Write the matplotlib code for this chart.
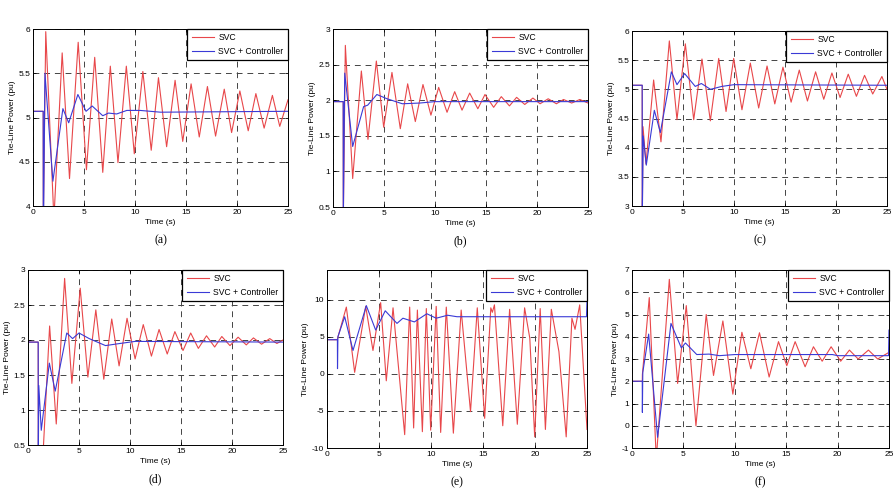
import matplotlib
matplotlib.use('Agg')
import matplotlib.pyplot as plt
from matplotlib.ticker import FuncFormatter

# ---- data (peaks / troughs) ----
t_svc_a = [0, 1, 1.01, 1.25, 2.05, 2.86, 3.58, 4.43, 5.24, 6.05, 6.84, 7.58, 8.33, 9.15, 9.93, 10.77, 11.59, 12.3,
           13.1, 13.93, 14.68, 15.5, 16.3, 17.1, 17.9, 18.75, 19.47, 20.28, 21.1, 21.85, 22.66, 23.47, 24.19, 25]
p_svc_a = [5.07, 5.07, 3.8, 5.97, 3.85, 5.73, 4.31, 5.85, 4.41, 5.68, 4.38, 5.58, 4.49, 5.58, 4.59, 5.52, 4.63, 5.45,
           4.67, 5.42, 4.73, 5.38, 4.78, 5.35, 4.79, 5.32, 4.83, 5.3, 4.85, 5.27, 4.88, 5.25, 4.9, 5.2]
t_ctl_a = [0, 1, 1.01, 1.17, 1.95, 2.93, 3.5, 4.4, 5.2, 5.8, 6.84, 7.4, 8.2, 9.2, 10.5, 12.5, 25]
p_ctl_a = [5.07, 5.07, 3.5, 5.5, 4.28, 5.1, 4.94, 5.26, 5.07, 5.13, 5.02, 5.05, 5.04, 5.08, 5.08, 5.06, 5.07]

t_svc_b = [0, 1, 1.01, 1.21, 1.93, 2.78, 3.43, 4.25, 4.97, 5.78, 6.6, 7.32, 8.07, 8.82, 9.6, 10.36, 11.18, 11.93,
           12.65, 13.4, 14.2, 14.9, 15.75, 16.5, 17.3, 18.0, 18.8, 19.6, 20.3, 21.1, 21.9, 22.6, 23.4, 24.2, 25]
p_svc_b = [1.98, 1.98, 0.3, 2.77, 0.9, 2.41, 1.45, 2.55, 1.62, 2.39, 1.6, 2.23, 1.7, 2.22, 1.79, 2.18, 1.83, 2.12,
           1.86, 2.1, 1.88, 2.08, 1.9, 2.05, 1.92, 2.04, 1.94, 2.03, 1.95, 2.02, 1.95, 2.01, 1.96, 2.01, 1.96]
t_ctl_b = [0, 1, 1.01, 1.15, 1.93, 3.0, 3.4, 4.3, 5.3, 6.8, 8.5, 10, 25]
p_ctl_b = [1.98, 1.98, 0.3, 2.38, 1.35, 1.91, 1.93, 2.08, 2.02, 1.95, 1.96, 1.98, 1.98]

t_svc_c = [0, 1, 1.01, 1.08, 1.37, 2.12, 2.84, 3.66, 4.41, 5.23, 6.05, 6.86, 7.68, 8.5, 9.22, 9.97, 10.78, 11.6,
           12.42, 13.24, 14.0, 14.8, 15.6, 16.4, 17.2, 18.0, 18.8, 19.6, 20.4, 21.2, 22.0, 22.8, 23.6, 24.5, 25]
p_svc_c = [5.07, 5.07, 2.8, 4.36, 3.72, 5.16, 4.1, 5.83, 4.48, 5.78, 4.48, 5.52, 4.46, 5.53, 4.62, 5.53, 4.65, 5.45,
           4.68, 5.4, 4.75, 5.38, 4.78, 5.33, 4.8, 5.3, 4.83, 5.28, 4.86, 5.26, 4.88, 5.24, 4.92, 5.22, 5.0]
t_ctl_c = [0, 1, 1.01, 1.1, 1.4, 2.19, 2.78, 3.86, 4.41, 5.16, 6.2, 6.8, 7.7, 8.8, 10, 25]
p_ctl_c = [5.07, 5.07, 2.8, 4.2, 3.7, 4.64, 4.26, 5.3, 5.08, 5.27, 5.05, 5.1, 5.0, 5.05, 5.08, 5.07]

t_svc_d = [0, 1, 1.01, 1.45, 2.12, 2.77, 3.59, 4.3, 5.12, 5.87, 6.65, 7.43, 8.21, 8.93, 9.71, 10.5, 11.3, 12.1,
           12.85, 13.65, 14.4, 15.2, 15.95, 16.7, 17.5, 18.3, 19.0, 19.8, 20.6, 21.4, 22.1, 22.9, 23.7, 24.4, 25]
p_svc_d = [1.97, 1.97, 0.3, 0.3, 2.2, 0.8, 2.88, 1.38, 2.74, 1.47, 2.43, 1.44, 2.3, 1.63, 2.31, 1.73, 2.22, 1.77,
           2.15, 1.8, 2.12, 1.85, 2.1, 1.88, 2.06, 1.9, 2.05, 1.92, 2.04, 1.93, 2.03, 1.94, 2.02, 1.95, 2.0]
t_ctl_d = [0, 1, 1.01, 1.06, 1.3, 2.09, 2.67, 3.8, 4.37, 5.0, 6.0, 7.6, 9.0, 10.5, 25]
p_ctl_d = [1.97, 1.97, 0.3, 1.35, 0.71, 1.67, 1.27, 2.1, 2.02, 2.1, 2.02, 1.92, 1.95, 1.98, 1.97]

t_svc_e = [0, 1, 1.02, 1.86, 2.66, 3.72, 4.42, 5.16, 5.7, 6.35, 7.47, 7.95, 8.33, 8.69, 9.17, 9.55, 9.97, 10.5,
           10.93, 11.47, 12.15, 12.9, 13.8, 14.45, 15.16, 15.75, 15.9, 16.1, 16.9, 17.56, 18.3, 19.0, 19.5, 19.97,
           20.5, 21.0, 21.57, 22.3, 23.0, 23.55, 23.85, 24.3, 25]
p_svc_e = [4.6, 4.6, 4.8, 9.0, 0.2, 9.1, 3.15, 9.6, -0.94, 8.9, -8.2, 9.0, -7.3, 8.6, -7.8, 8.8, -7.6, 9.1,
           -7.9, 9.0, -8.0, 8.6, -5.1, 8.9, -6.0, 8.9, 8.3, 9.3, -7.0, 8.7, -6.8, 8.9, 4.8, -8.5,
           8.8, -7.5, 8.7, 3.0, -8.5, 7.5, 6.0, 9.3, -7.5]
t_ctl_e = [0, 1, 1.01, 1.05, 1.7, 2.5, 3.78, 4.68, 5.6, 6.73, 7.3, 8.4, 9.6, 10.5, 11.6, 12.5, 24.95, 25]
p_ctl_e = [4.6, 4.6, 0.7, 5.0, 7.7, 3.15, 9.2, 5.9, 8.5, 6.8, 7.5, 7.0, 8.1, 7.5, 7.9, 7.7, 7.7, 10.0]

t_svc_f = [0, 1, 1.01, 1.68, 2.36, 3.63, 4.44, 5.28, 6.22, 7.22, 7.93, 8.84, 9.81, 10.69, 11.56, 12.4, 13.34,
           14.25, 15.06, 15.87, 16.84, 17.65, 18.5, 19.37, 20.3, 21.15, 22.0, 23.0, 23.9, 25]
p_svc_f = [2.0, 2.0, 2.3, 5.76, -1.5, 6.58, 1.9, 5.4, 0.0, 5.0, 2.26, 4.71, 1.42, 4.2, 2.56, 4.18, 2.19,
           3.78, 2.7, 3.78, 2.65, 3.55, 2.9, 3.55, 2.9, 3.4, 3.0, 3.4, 3.0, 3.3]
t_ctl_f = [0, 1, 1.01, 1.05, 1.62, 2.49, 3.79, 4.8, 5.2, 6.3, 7.5, 8.5, 10, 19.5, 20, 24.95, 25]
p_ctl_f = [2.0, 2.0, 0.6, 2.4, 4.12, -0.52, 4.6, 3.5, 3.72, 3.2, 3.22, 3.15, 3.2, 3.2, 3.15, 3.15, 4.3]

labels = ['(a)', '(b)', '(c)', '(d)', '(e)', '(f)']
ylims = [(4, 6), (0.5, 3), (3, 6), (0.5, 3), (-10, 14), (-1, 7)]
yticks = [[4, 4.5, 5, 5.5, 6], [0.5, 1, 1.5, 2, 2.5, 3], [3, 3.5, 4, 4.5, 5, 5.5, 6],
          [0.5, 1, 1.5, 2, 2.5, 3], [-10, -5, 0, 5, 10], [-1, 0, 1, 2, 3, 4, 5, 6, 7]]
xticks = [0, 5, 10, 15, 20, 25]

svc = [(t_svc_a, p_svc_a), (t_svc_b, p_svc_b), (t_svc_c, p_svc_c),
       (t_svc_d, p_svc_d), (t_svc_e, p_svc_e), (t_svc_f, p_svc_f)]
ctl = [(t_ctl_a, p_ctl_a), (t_ctl_b, p_ctl_b), (t_ctl_c, p_ctl_c),
       (t_ctl_d, p_ctl_d), (t_ctl_e, p_ctl_e), (t_ctl_f, p_ctl_f)]

# axes boxes in pixels: left, right, top, bottom
boxes = [(33, 288, 29, 206), (333, 588, 29, 207), (632, 887, 31, 206),
         (28, 283, 270, 445), (327, 587, 270, 448), (632, 889, 270, 448)]

W, H = 896, 494
fig = plt.figure(figsize=(W / 100, H / 100), dpi=100)
plt.rcParams['font.family'] = ['Liberation Sans', 'DejaVu Sans']

fmt = FuncFormatter(lambda v, pos: '%g' % v)

for i in range(6):
    l, r, t, b = boxes[i]
    ax = fig.add_axes([l / W, 1 - b / H, (r - l) / W, (b - t) / H])
    ax.plot(svc[i][0], svc[i][1], color='#e8474a', lw=0.8, label='SVC')
    ax.plot(ctl[i][0], ctl[i][1], color='#3a3ad6', lw=0.8, label='SVC + Controller')
    ax.set_xlim(0, 25)
    ax.set_ylim(*ylims[i])
    ax.set_xticks(xticks)
    ax.set_yticks(yticks[i])
    ax.xaxis.set_major_formatter(fmt)
    ax.yaxis.set_major_formatter(fmt)
    ax.tick_params(direction='in', length=2.5, width=0.6, labelsize=6, pad=2, top=True, right=True)
    ax.grid(True, color='#444444', linestyle=(0, (6, 5)), linewidth=0.7)
    for s in ax.spines.values():
        s.set_linewidth(0.7)
    ax.set_xlabel('Time (s)', fontsize=6, labelpad=2)
    ax.set_ylabel('Tie-Line Power (pu)', fontsize=6, labelpad=2)
    leg = ax.legend(loc='upper right', fontsize=6.2, borderaxespad=0, fancybox=False,
                    framealpha=1, edgecolor='black', handlelength=2.6, borderpad=0.5,
                    labelspacing=0.55, handletextpad=0.5)
    leg.get_frame().set_linewidth(0.9)
    cx = (l + r) / 2
    cy = b + 34
    fig.text(cx / W, 1 - cy / H, labels[i], ha='center', va='center',
             fontsize=8.5, family=['Liberation Serif', 'DejaVu Serif'])

fig.savefig('out.png', dpi=100)
